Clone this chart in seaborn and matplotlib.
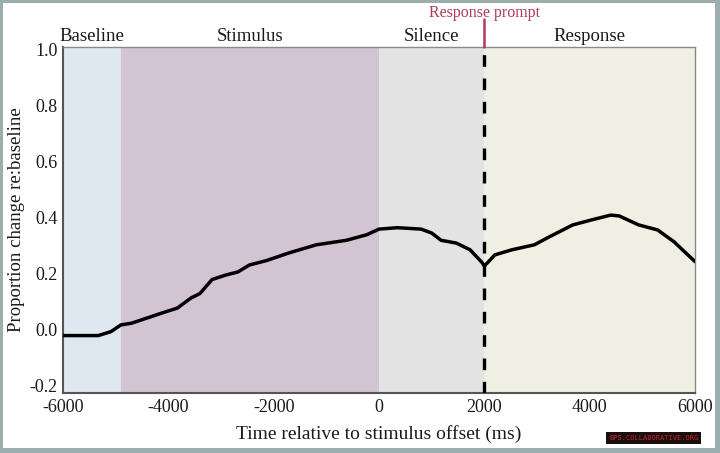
import pandas as pd
import matplotlib.pyplot as plt
import seaborn as sns
from matplotlib.patches import Rectangle


# Data

time_ms = [-6000, -5600, -5330, -5090, -4900, -4700, -4130, -3830, -3570, -3400,
           -3170, -2910, -2680, -2460, -2130, -1710, -1190, -620, -230, 0,
           350, 800, 1000, 1180, 1470, 1730, 1960, 2000, 2200, 2520,
           2950, 3240, 3680, 4040, 4400, 4560, 4930, 5290, 5600, 6000]
prop_change = [-0.02, -0.02, -0.02, -0.006, 0.018, 0.024, 0.06, 0.078, 0.114, 0.13,
               0.18, 0.196, 0.207, 0.232, 0.248, 0.275, 0.304, 0.32, 0.34, 0.36,
               0.365, 0.36, 0.346, 0.32, 0.31, 0.286, 0.24, 0.228, 0.268, 0.286,
               0.304, 0.333, 0.375, 0.393, 0.41, 0.407, 0.375, 0.357, 0.315, 0.244]

phase_names = ["Baseline", "Stimulus", "Silence", "Response"]
phase_start = [-6000, -4900, 0, 2000]
phase_end = [-4900, 0, 2000, 6000]
phase_colors = ["#dfe7f1", "#d3c4d3", "#e4e3e3", "#f0efe4"]

prompt_time = 2000
x_ticks = [-6000, -4000, -2000, 0, 2000, 4000, 6000]
y_ticks = [-0.2, 0.0, 0.2, 0.4, 0.6, 0.8, 1.0]

df = pd.DataFrame({"time": time_ms, "change": prop_change})


# Style

sns.set_style("white")
plt.rcParams['font.family'] = ['Liberation Serif', 'DejaVu Serif']

fig = plt.figure(figsize=(7.2, 4.53), dpi=100, facecolor="#9cadad")
# white card inside the grey frame
fig.patches.append(Rectangle((3 / 720, 5 / 453), 1 - 8 / 720, 1 - 8 / 453,
                             transform=fig.transFigure, facecolor="white",
                             edgecolor="none", zorder=-5))

ax = fig.add_axes([63 / 720, 1 - 393 / 453, (695 - 63) / 720, (393 - 47) / 453])
ax.set_zorder(2)

# phase background bands + labels
for name, s, e, c in zip(phase_names, phase_start, phase_end, phase_colors):
    ax.axvspan(s, e, color=c, lw=0, zorder=0)
    ax.text((s + e) / 2, 1.005, name, ha="center", va="bottom",
            fontsize=13.5, color="#1a1a1a", transform=ax.get_xaxis_transform())

# curve
sns.lineplot(data=df, x="time", y="change", color="black", lw=2.5, ax=ax, zorder=3,
             solid_joinstyle="round", solid_capstyle="round")

# response prompt marker
ax.axvline(prompt_time, color="black", lw=2.4, ls=(0, (3.5, 3.5)), zorder=4)
ax.plot([prompt_time, prompt_time], [1.0, 1.08], color="#b03a5e", lw=1.8,
        transform=ax.get_xaxis_transform(), clip_on=False, zorder=5)
ax.text(prompt_time, 1.088, "Response prompt", ha="center", va="baseline",
        fontsize=11.5, color="#b03a5e", transform=ax.get_xaxis_transform())

ax.set_xlim(-6000, 6000)
ax.set_ylim(-0.225, 1.01)
ax.set_xticks(x_ticks)
ax.set_xticklabels([str(t) for t in x_ticks])
ax.set_yticks(y_ticks)
ax.set_yticklabels([f"{v:.1f}" for v in y_ticks])
ax.tick_params(axis="both", length=0, labelsize=13, colors="#1a1a1a", pad=4)

for side in ["top", "right"]:
    ax.spines[side].set_color("#8a8a8a")
    ax.spines[side].set_linewidth(1.0)
for side in ["left", "bottom"]:
    ax.spines[side].set_color("#555555")
    ax.spines[side].set_linewidth(1.5)

ax.set_xlabel("Time relative to stimulus offset (ms)", fontsize=14, color="#1a1a1a", labelpad=7)
ax.set_ylabel("Proportion change re:baseline", fontsize=13.5, color="#1a1a1a", labelpad=3)

# watermark tag
fig.text(0.908, 0.033, "BPS.COLLABORATIVE.ORG", ha="center", va="center",
         fontsize=5, color="#d02020", family="DejaVu Sans Mono",
         bbox=dict(facecolor="#1a1010", edgecolor="none", pad=2))

fig.savefig("out.png", dpi=100, facecolor=fig.get_facecolor())
